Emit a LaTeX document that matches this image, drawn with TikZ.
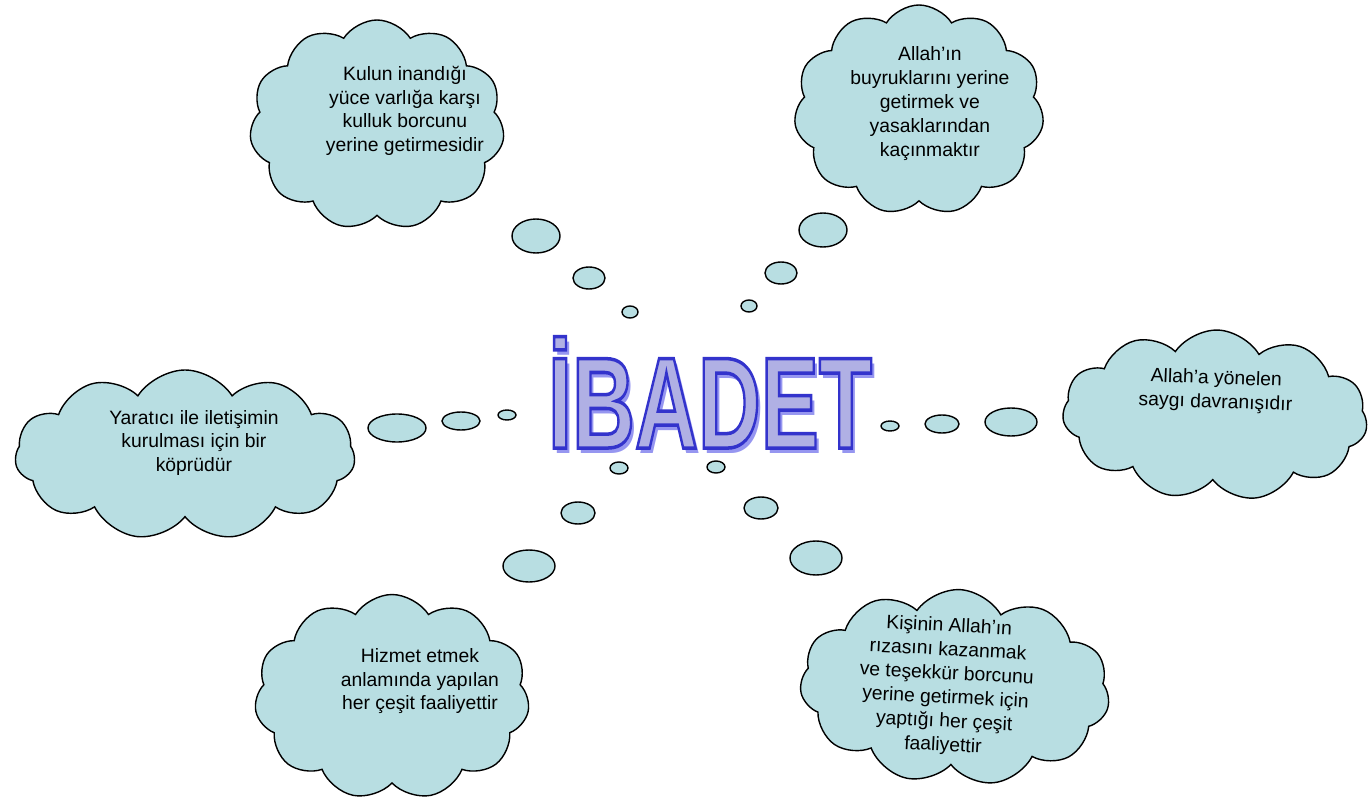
\documentclass[tikz,border=0pt]{standalone}
\usepackage{fontspec}
\setmainfont{Liberation Sans}
\usetikzlibrary{shapes.symbols,shapes.geometric}
\definecolor{cloudfill}{RGB}{184,222,226}
\definecolor{titlefill}{RGB}{176,176,228}
\definecolor{titleshade}{RGB}{150,150,240}
% text of a cloud, moved right by #1 and up by #2
\newcommand{\thinktext}[3]{\raisebox{#2}[0pt][0pt]{\makebox[0pt]{\hspace*{#1}\hspace*{#1}\begin{tabular}{@{}c@{}}#3\end{tabular}}}}
\tikzset{thought/.style={cloud, cloud puffs=11, cloud puff arc=115, draw=black, thick,
                         fill=cloudfill, inner sep=0pt,
                         font=\fontsize{11}{13.6}\selectfont},
        puff/.style={ellipse, draw=black, thick, fill=cloudfill, inner sep=0pt},
        }

\begin{document}
\begin{tikzpicture}
    \useasboundingbox (0,0) rectangle (27.42,-16);

    % title
    \node[font=\fontsize{74}{80}\selectfont\bfseries] (ibadet) at (14.2,-7.9)
        {\scalebox{0.67}[1]{\makebox[0pt][l]{\hspace{3pt}\raisebox{-3pt}{\color{titleshade}İBADET}}%
         \color{titlefill}\special{pdf:literal direct 2 Tr 2 w 0.2 0.2 0.8 RG}İBADET}};

    % clouds
    \node[thought, minimum width=5.1cm, minimum height=4.2cm, aspect=1.2] (kul) at (7.54,-2.5)
        {\thinktext{15.9pt}{5.1pt}{Kulun inandığı\\yüce varlığa karşı\\kulluk borcunu\\yerine getirmesidir}};
    \node[thought, minimum width=5.0cm, minimum height=4.2cm, aspect=1.2] (buyruk) at (18.38,-2.2)
        {\thinktext{6.2pt}{1pt}{Allah’ın\\buyruklarını yerine\\getirmek ve\\yasaklarından\\kaçınmaktır}};
    \node[thought, minimum width=6.1cm, minimum height=3.4cm, aspect=1.8, rotate=-2] (saygi) at (24.3,-8.3)
        {\thinktext{0pt}{10.8pt}{Allah’a yönelen\\saygı davranışıdır}};
    \node[thought, minimum width=6.8cm, minimum height=3.4cm, aspect=2] (kopru) at (3.7,-9.1)
        {\thinktext{5.1pt}{4pt}{Yaratıcı ile iletişimin\\kurulması için bir\\köprüdür}};
    \node[thought, minimum width=5.5cm, minimum height=4.1cm, aspect=1.3] (hizmet) at (7.84,-13.94)
        {\thinktext{15.9pt}{6.2pt}{Hizmet etmek\\anlamında yapılan\\her çeşit faaliyettir}};
    \node[thought, minimum width=6.2cm, minimum height=3.9cm, aspect=1.5, rotate=-3] (riza) at (19.1,-13.74)
        {\thinktext{-5.1pt}{-2.8pt}{Kişinin Allah’ın\\rızasını kazanmak\\ve teşekkür borcunu\\yerine getirmek için\\yaptığı her çeşit\\faaliyettir}};

    % bubbles
    \node[puff, minimum width=0.96cm, minimum height=0.68cm] (kul1) at (10.72,-4.72) {};
    \node[puff, minimum width=0.64cm, minimum height=0.44cm] (kul2) at (11.78,-5.56) {};
    \node[puff, minimum width=0.32cm, minimum height=0.24cm] (kul3) at (12.6,-6.24) {};

    \node[puff, minimum width=0.96cm, minimum height=0.68cm] (buyruk1) at (16.46,-4.6) {};
    \node[puff, minimum width=0.64cm, minimum height=0.44cm] (buyruk2) at (15.62,-5.46) {};
    \node[puff, minimum width=0.32cm, minimum height=0.24cm] (buyruk3) at (14.98,-6.12) {};

    \node[puff, minimum width=1.04cm, minimum height=0.56cm] (saygi1) at (20.22,-8.44) {};
    \node[puff, minimum width=0.68cm, minimum height=0.36cm] (saygi2) at (18.84,-8.48) {};
    \node[puff, minimum width=0.36cm, minimum height=0.2cm] (saygi3) at (17.8,-8.52) {};

    \node[puff, minimum width=1.16cm, minimum height=0.56cm] (kopru1) at (7.94,-8.56) {};
    \node[puff, minimum width=0.76cm, minimum height=0.36cm] (kopru2) at (9.22,-8.42) {};
    \node[puff, minimum width=0.36cm, minimum height=0.2cm] (kopru3) at (10.14,-8.3) {};

    \node[puff, minimum width=1.04cm, minimum height=0.64cm] (hizmet1) at (10.58,-11.32) {};
    \node[puff, minimum width=0.68cm, minimum height=0.44cm] (hizmet2) at (11.56,-10.26) {};
    \node[puff, minimum width=0.36cm, minimum height=0.24cm] (hizmet3) at (12.38,-9.36) {};

    \node[puff, minimum width=1.04cm, minimum height=0.68cm] (riza1) at (16.32,-11.16) {};
    \node[puff, minimum width=0.68cm, minimum height=0.44cm] (riza2) at (15.22,-10.16) {};
    \node[puff, minimum width=0.36cm, minimum height=0.24cm] (riza3) at (14.32,-9.34) {};
\end{tikzpicture}
\end{document}
